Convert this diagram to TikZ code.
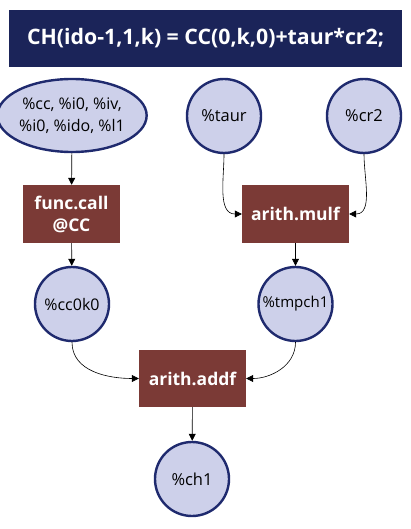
\documentclass[tikz,border=0pt]{standalone}
\usepackage{fontspec}
\setmainfont{Open Sans}
\usetikzlibrary{arrows.meta,shapes.geometric}
\definecolor{navy}{HTML}{1B2459}
\definecolor{ring}{HTML}{1F2A6E}
\definecolor{lav}{HTML}{CDD0EA}
\definecolor{opbox}{HTML}{7B3A36}
\begin{document}
\begin{tikzpicture}[x=1pt,y=-1pt,
  val/.style={circle,draw=ring,line width=2.4pt,fill=lav,minimum size=74pt,inner sep=0pt,font=\fontsize{16.5}{19}\selectfont},
  op/.style={rectangle,fill=opbox,text=white,inner sep=0pt,font=\fontsize{17.5}{22}\bfseries\selectfont,align=center},
  conn/.style={-{Triangle[length=7pt,width=7pt]},line width=0.6pt,black}]
\useasboundingbox (0,0) rectangle (411,529);
\node[fill=navy,text=white,minimum width=393pt,minimum height=57pt,inner sep=0pt,font=\fontsize{21.3}{24}\bfseries\selectfont] (title) at (205.5,38.5) {CH(ido-1,1,k) = CC(0,k,0)+taur*cr2;};
\node[ellipse,draw=ring,line width=2.4pt,fill=lav,minimum width=125pt,minimum height=73pt,inner sep=0pt,align=center,font=\fontsize{16}{22}\selectfont] (args) at (72,115.5) {\%cc, \%i0, \%iv,\\\%i0, \%ido, \%l1};
\node[val] (taur) at (224,116) {\%taur};
\node[val] (cr2) at (364,116) {\%cr2};
\node[op,minimum width=97pt,minimum height=58pt] (call) at (71.5,214) {func.call\\@CC};
\node[op,minimum width=107pt,minimum height=58pt] (mulf) at (295.5,214) {arith.mulf};
\node[val,font=\fontsize{16}{19}\selectfont] (cc0k0) at (72,304) {\%cc0k0};
\node[val,font=\fontsize{15}{19}\selectfont] (tmp) at (295.5,304) {\%tmpch1};
\node[op,minimum width=107pt,minimum height=57pt] (addf) at (192.5,378.5) {arith.addf};
\node[val] (ch1) at (192,479) {\%ch1};
\draw[conn] (args) -- (call);
\draw[conn] (taur.south) to[out=-90,in=180] (mulf.west);
\draw[conn] (cr2.south) to[out=-90,in=0] (mulf.east);
\draw[conn] (call) -- (cc0k0);
\draw[conn] (mulf) -- (tmp);
\draw[conn] (cc0k0.south) to[out=-90,in=180] (addf.west);
\draw[conn] (tmp.south) to[out=-90,in=0] (addf.east);
\draw[conn] (addf) -- (ch1);
\end{tikzpicture}
\end{document}
